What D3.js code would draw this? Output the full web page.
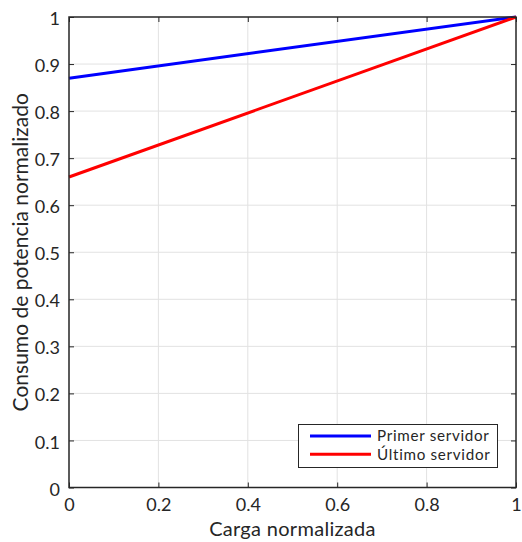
<!DOCTYPE html>
<html>
<head>
<meta charset="utf-8">
<script src="https://cdn.jsdelivr.net/npm/d3@7"></script>
<style>
  html, body { margin: 0; padding: 0; background: #fff; }
  svg { display: block; }
  text { font-family: Lato, "Open Sans", sans-serif; fill: #262626; }
</style>
</head>
<body>
<svg id="chart" width="522" height="542"></svg>
<script>
// Normalised load on the x axis, normalised power draw per server
const loadLevels = [0, 1];
const firstServer = [0.87, 1];
const lastServer = [0.66, 1];
const seriesNames = ["Primer servidor", "Último servidor"];
const seriesColors = ["#0000ff", "#ff0000"];
const xTicks = [0, 0.2, 0.4, 0.6, 0.8, 1];
const yTicks = [0, 0.1, 0.2, 0.3, 0.4, 0.5, 0.6, 0.7, 0.8, 0.9, 1];
const xTitle = "Carga normalizada";
const yTitle = "Consumo de potencia normalizado";

const svg = d3.select("#chart");
const plotL = 69, plotR = 516, plotT = 17, plotB = 487.5;

const x = d3.scaleLinear().domain([0, 1]).range([plotL, plotR]);
const y = d3.scaleLinear().domain([0, 1]).range([plotB, plotT]);
const fmt = d => String(d);

// grid
const grid = svg.append("g");
grid.selectAll("line.gx").data(xTicks.slice(1, -1)).join("line")
  .attr("x1", d => x(d)).attr("x2", d => x(d))
  .attr("y1", plotT).attr("y2", plotB)
  .attr("stroke", "#e2e2e2").attr("stroke-width", 1);
grid.selectAll("line.gy").data(yTicks.slice(1, -1)).join("line")
  .attr("x1", plotL).attr("x2", plotR)
  .attr("y1", d => y(d)).attr("y2", d => y(d))
  .attr("stroke", "#e2e2e2").attr("stroke-width", 1);

// series lines
const series = [firstServer, lastServer];
const line = d3.line().x((d, i) => x(loadLevels[i])).y(d => y(d));
series.forEach((vals, k) => {
  svg.append("path").datum(vals)
    .attr("d", line)
    .attr("fill", "none")
    .attr("stroke", seriesColors[k])
    .attr("stroke-width", 3);
});

// axes (box with inward ticks on all four sides)
const tickLen = 5;
const axisStyle = g => {
  g.select(".domain").remove();
  g.selectAll(".tick line").attr("stroke", "#262626");
  g.selectAll(".tick text").style("font-size", "18px").attr("fill", "#262626");
};
svg.append("g").attr("transform", `translate(0,${plotB})`)
  .call(d3.axisBottom(x).tickValues(xTicks).tickFormat(fmt).tickSizeInner(-tickLen).tickSizeOuter(0).tickPadding(11))
  .call(axisStyle);
svg.append("g").attr("transform", `translate(${plotL},0)`)
  .call(d3.axisLeft(y).tickValues(yTicks).tickFormat(fmt).tickSizeInner(-tickLen).tickSizeOuter(0).tickPadding(9))
  .call(axisStyle)
  .selectAll(".tick text").attr("dy", "0.42em");
svg.append("g").attr("transform", `translate(0,${plotT})`)
  .call(d3.axisTop(x).tickValues(xTicks).tickFormat("").tickSizeInner(-tickLen).tickSizeOuter(0))
  .call(axisStyle);
svg.append("g").attr("transform", `translate(${plotR},0)`)
  .call(d3.axisRight(y).tickValues(yTicks).tickFormat("").tickSizeInner(-tickLen).tickSizeOuter(0))
  .call(axisStyle);

svg.append("rect")
  .attr("x", plotL).attr("y", plotT)
  .attr("width", plotR - plotL).attr("height", plotB - plotT)
  .attr("fill", "none").attr("stroke", "#262626").attr("stroke-width", 1.5);

// axis titles
svg.append("text")
  .attr("x", (plotL + plotR) / 2).attr("y", 536)
  .attr("text-anchor", "middle").style("font-size", "20px")
  .style("letter-spacing", "0.3px")
  .text(xTitle);
svg.append("text")
  .attr("transform", `translate(28,${(plotT + plotB) / 2}) rotate(-90)`)
  .attr("text-anchor", "middle").style("font-size", "21px")
  .text(yTitle);

// legend
const lg = svg.append("g");
lg.append("rect")
  .attr("x", 298.5).attr("y", 424.5).attr("width", 199).attr("height", 43)
  .attr("fill", "#fff").attr("stroke", "#262626").attr("stroke-width", 1);
seriesNames.forEach((name, k) => {
  const ly = 436 + k * 18.3;
  lg.append("line")
    .attr("x1", 310).attr("x2", 371).attr("y1", ly).attr("y2", ly)
    .attr("stroke", seriesColors[k]).attr("stroke-width", 3);
  lg.append("text")
    .attr("x", 377).attr("y", ly).attr("dy", "0.36em")
    .style("font-size", "15.2px")
    .style("letter-spacing", "0.7px")
    .text(name);
});
</script>
</body>
</html>
